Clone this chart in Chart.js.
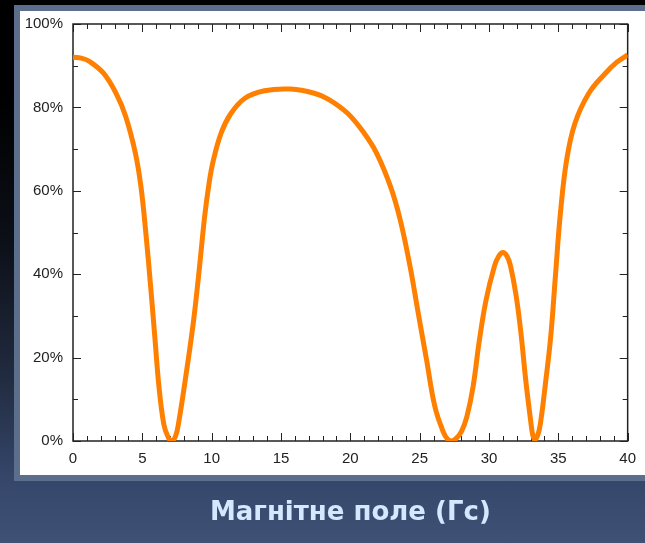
<!DOCTYPE html>
<html>
<head>
<meta charset="utf-8">
<script src="https://cdn.jsdelivr.net/npm/chart.js@4/dist/chart.umd.min.js"></script>
<style>
  html, body { margin: 0; padding: 0; }
  body {
    width: 645px; height: 543px; overflow: hidden; position: relative;
    background: linear-gradient(to bottom, #000 0%, #000 18%, #0c1018 45%, #222c41 70%, #35466a 88%, #3e5275 100%);
  }
  .panel {
    position: absolute; left: 14px; top: 5px; width: 660px; height: 464px;
    background: #fff; border: 6px solid #5b6f8c; box-sizing: content-box;
  }
  #wrap { position: absolute; left: 0; top: 0; width: 645px; height: 543px; }
</style>
</head>
<body>
<div class="panel"></div>
<div id="wrap"><canvas id="myChart" width="645" height="543"></canvas></div>
<script>
// field values (Гс)
const field = [0, 0.6, 1.2, 2.2, 3.1, 3.8, 4.5, 4.9, 5.25, 5.6, 5.9, 6.2, 6.55, 6.85, 7.1, 7.4, 7.65,
    8.2, 8.7, 9.1, 9.5, 9.8, 10.1, 10.7, 11.4, 12.4, 13.8, 15.7, 17.4, 18.4, 19.8, 21, 21.9,
    22.9, 23.6, 24.3, 24.9, 25.5, 26.1, 26.7, 27.0, 27.3, 27.6, 28, 28.4, 28.85, 29.3, 29.8, 30.4,
    30.7, 31, 31.3, 31.55, 31.95, 32.3, 32.65, 33, 33.15, 33.3, 33.5, 33.7, 34.1, 34.45, 34.8, 35.15,
    35.6, 36.2, 37.2, 38.4, 39.2, 40];
// signal, percent
const signal = [92, 91.8, 91, 88.2, 83.4, 77.8, 69, 61, 50, 37, 25, 13, 4, 1, 0, 1.2, 5,
    17, 29, 41, 54, 61.5, 67, 74, 78.6, 82.2, 84, 84.4, 83.4, 82, 78.6, 73.8, 69,
    61, 53, 42, 30.6, 19.4, 8.2, 2.2, 0.5, 0, 0.5, 2.2, 5.8, 13, 24, 34, 42,
    44.3, 45.2, 44.3, 42, 35, 26, 14.6, 5, 1.5, 0.3, 1.3, 4, 14.6, 25, 40, 54.6,
    67.4, 76.2, 83.4, 88.2, 90.8, 92.6];
const xTicks = [0, 5, 10, 15, 20, 25, 30, 35, 40];
const yTicks = [0, 20, 40, 60, 80, 100];
const xTitle = "Магнітне поле (Гс)";

const points = field.map((f, i) => ({ x: f, y: signal[i] }));

// frame with inward ticks on all four sides
const framePlugin = {
    id: "frame",
    beforeDatasetsDraw(chart) {
        const { ctx, chartArea: a, scales: { x, y } } = chart;
        ctx.save();
        ctx.strokeStyle = "#222";
        ctx.lineWidth = 1;
        ctx.beginPath();
        for (let v = 0; v <= 40; v++) {
            const px = Math.round(x.getPixelForValue(v)) + 0.5;
            const len = v % 5 === 0 ? 8 : 5;
            ctx.moveTo(px, a.bottom); ctx.lineTo(px, a.bottom - len);
            ctx.moveTo(px, a.top); ctx.lineTo(px, a.top + len);
        }
        for (let v = 0; v <= 100; v += 10) {
            const py = Math.round(y.getPixelForValue(v)) + 0.5;
            const len = v % 20 === 0 ? 8 : 5;
            ctx.moveTo(a.left, py); ctx.lineTo(a.left + len, py);
            ctx.moveTo(a.right, py); ctx.lineTo(a.right - len, py);
        }
        ctx.stroke();
        ctx.lineWidth = 1.5;
        ctx.strokeRect(a.left, a.top, a.right - a.left, a.bottom - a.top);
        ctx.restore();
    }
};

const ctx = document.getElementById("myChart").getContext("2d");
const myChart = new Chart(ctx, {
    type: "line",
    data: {
        datasets: [
            {
                data: points,
                borderColor: "#ff8000",
                borderWidth: 5,
                pointRadius: 0,
                tension: 0.4,
                fill: false,
            },
        ],
    },
    options: {
        responsive: false,
        animation: false,
        layout: { padding: { left: 0, right: 12, top: 24, bottom: 0 } },
        plugins: { legend: { display: false }, tooltip: { enabled: false } },
        scales: {
            x: {
                type: "linear",
                min: 0,
                max: 40,
                afterBuildTicks: (s) => { s.ticks = xTicks.map(v => ({ value: v })); },
                afterFit: (s) => { s.height = 102; },
                grid: { display: false, drawTicks: false },
                border: { display: false },
                ticks: { color: "#222", padding: 9, font: { family: "Liberation Sans, Arial", size: 15 } },
                title: {
                    display: true,
                    text: xTitle,
                    color: "#d4e9ff",
                    padding: { top: 0, bottom: 14 },
                    font: { family: "DejaVu Sans", size: 26, weight: "bold" },
                },
            },
            y: {
                min: 0,
                max: 100,
                afterBuildTicks: (s) => { s.ticks = yTicks.map(v => ({ value: v })); },
                afterFit: (s) => { s.width = 73; },
                grid: { display: false, drawTicks: false },
                border: { display: false },
                ticks: {
                    color: "#222",
                    padding: 10,
                    font: { family: "Liberation Sans, Arial", size: 15 },
                    callback: (v) => v + "%",
                },
            },
        },
    },
    plugins: [framePlugin],
});
</script>
</body>
</html>
